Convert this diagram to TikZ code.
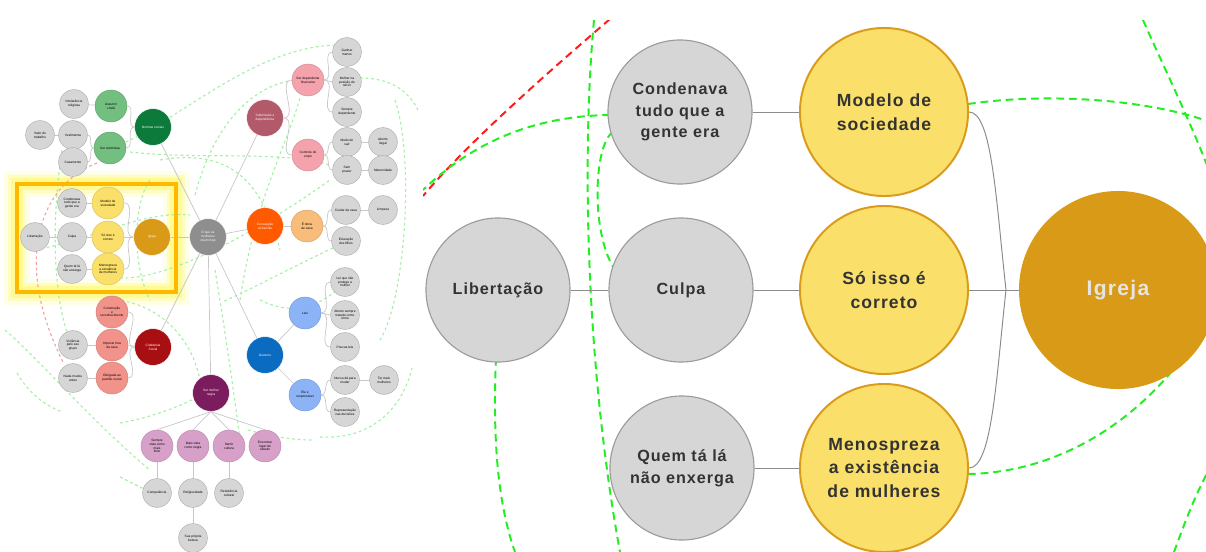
\documentclass[tikz,border=0pt]{standalone}
\usepackage{fontspec}
\setmainfont{Liberation Sans}
\newfontfamily\wide[LetterSpace=6]{Liberation Sans}

\definecolor{nodegray}{HTML}{D6D6D6}
\definecolor{rimgray}{HTML}{9C9C9C}
\definecolor{textdark}{HTML}{333333}
\definecolor{softyellow}{HTML}{FAE06A}
\definecolor{goldrim}{HTML}{D99B1C}
\definecolor{gold}{HTML}{D89A17}
\definecolor{brightgreen}{HTML}{22EE22}
\definecolor{brightred}{HTML}{FF1A1A}
\definecolor{palegreen}{HTML}{A6F0A6}
\definecolor{palered}{HTML}{F5A0A0}
\definecolor{darkgreen}{HTML}{0B7A3B}
\definecolor{lightgreen}{HTML}{72BF7F}
\definecolor{rosewood}{HTML}{B2596A}
\definecolor{rosepink}{HTML}{F4A3AC}
\definecolor{flame}{HTML}{FF5A00}
\definecolor{peach}{HTML}{F8BD7A}
\definecolor{royal}{HTML}{0A6BC1}
\definecolor{skyblue}{HTML}{8DB3F7}
\definecolor{crimson}{HTML}{A80F12}
\definecolor{salmon}{HTML}{F1938A}
\definecolor{plum}{HTML}{7B1C5E}
\definecolor{orchid}{HTML}{D6A0C9}
\definecolor{rootgray}{HTML}{8E8E8E}
\definecolor{boxorange}{HTML}{FFB800}

\tikzset{
  tnode/.style={circle, inner sep=0pt, align=center, line width=0.3pt,
    font=\fontsize{2.3}{2.7}\selectfont},
  tgray/.style={tnode, fill=nodegray, draw=nodegray!80!black, minimum size=0.72cm, text=black},
  tmain/.style={tnode, fill=#1, draw=white, minimum size=0.92cm, text=white},
  tsub/.style={tnode, fill=#1, draw=#1!85!black, minimum size=0.8cm, text=black},
  tlink/.style={draw=black!22, line width=0.5pt},
  tdash/.style={draw=palegreen, line width=0.8pt, dash pattern=on 2pt off 2pt},
  rgray/.style={circle, fill=nodegray, draw=rimgray, line width=0.8pt, minimum size=3.6cm,
    inner sep=0pt, align=center, text=textdark, font=\wide\bfseries\fontsize{11.5}{15.5}\selectfont},
  ryellow/.style={circle, fill=softyellow, draw=goldrim, line width=1.4pt, minimum size=4.2cm,
    inner sep=0pt, align=center, text=textdark, font=\wide\bfseries\fontsize{12.5}{17}\selectfont},
  rgold/.style={circle, fill=gold, minimum size=4.95cm, inner sep=0pt,
    text=white!90!black, font=\wide\bfseries\fontsize{15}{18}\selectfont},
  rlink/.style={draw=black!45, line width=0.7pt},
  rgreen/.style={draw=brightgreen, line width=1.4pt, dash pattern=on 5.5pt off 3.5pt},
  rred/.style={draw=brightred, line width=1.4pt, dash pattern=on 5.5pt off 3.5pt}
}

\begin{document}
\begin{tikzpicture}[x=0.025cm, y=-0.025cm]
    \useasboundingbox (0,0) rectangle (1206,552);

    % Glow round the highlighted branch
    \foreach \w/\o in {18/0.12, 13/0.2, 8/0.35} {
        \draw[yellow!80, line width=\w pt, opacity=\o] (17,184) rectangle (176,292);
    }

    % Cross links of the overview (pale green)
    \draw[tdash] (110,148) .. controls (170,130) and (250,45) .. (340,45);
    \draw[tdash] (130,152) .. controls (200,160) and (280,150) .. (330,165);
    \draw[tdash] (195,195) .. controls (215,120) and (255,85) .. (295,80);
    \draw[tdash] (240,300) .. controls (255,200) and (285,150) .. (300,98);
    \draw[tdash] (360,78) .. controls (390,78) and (408,90) .. (418,110);
    \draw[tdash] (333,248) .. controls (290,268) and (250,290) .. (222,302);
    \draw[tdash] (62,150) .. controls (50,230) and (55,300) .. (68,335);
    \draw[tdash] (17,373) .. controls (30,395) and (45,405) .. (62,412);
    \draw[tdash] (320,437) .. controls (370,440) and (402,410) .. (412,368);
    \draw[tdash] (120,423) .. controls (150,418) and (185,405) .. (205,393);
    \draw[tdash] (248,430) .. controls (270,436) and (292,440) .. (312,440);
    \draw[tdash] (120,477) .. controls (130,482) and (138,486) .. (146,490);
    \draw[tdash] (120,278) .. controls (170,280) and (260,230) .. (330,180);
    \draw[tdash] (30,250) .. controls (80,245) and (140,210) .. (190,215);
    \draw[tdash] (110,300) .. controls (150,300) and (190,330) .. (200,380);
    \draw[tdash] (260,300) .. controls (300,320) and (330,300) .. (346,280);
    \draw[tdash] (215,270) .. controls (225,330) and (235,400) .. (240,440);
    \draw[tdash] (150,180) .. controls (135,200) and (130,260) .. (150,300);
    \draw[tdash] (5,330) .. controls (40,360) and (90,420) .. (150,470);
    \draw[tdash] (395,100) .. controls (415,160) and (405,300) .. (380,340);
    \draw[tdash] (160,160) .. controls (220,150) and (260,170) .. (280,250);
    \draw[palered, line width=0.8pt, dash pattern=on 2pt off 2pt]
        (97,163) .. controls (40,185) and (12,260) .. (63,362);

    % Root of the overview
    \node[tmain=rootgray] (root) at (208,237) {O que as\\mulheres\\vivem hoje};

    % Normas sociais branch
    \node[tmain=darkgreen] (tnorm) at (153,127) {Normas sociais};
    \node[tsub=lightgreen] (tass) at (111,106) {Assumir\\cristã};
    \node[tsub=lightgreen] (tsubm) at (110,148) {Ser submissa};
    \node[tgray] (tint) at (74,104) {Intolerância\\religiosa};
    \node[tgray] (tvest) at (73,135) {Vestimenta};
    \node[tgray] (tval) at (40,135) {Valor do\\trabalho};
    \node[tgray] (tcas) at (73,162) {Casamento};
    \draw[tlink] (tval) -- (tvest);
    \draw[tlink] (tint) -- (tass);
    \draw[tlink] (tvest.east) to[out=0, in=180] (tsubm.west);
    \draw[tlink] (tcas.east) to[out=0, in=180] (tsubm.west);
    \draw[tlink] (tass.east) to[out=0, in=180] (tnorm.west);
    \draw[tlink] (tsubm.east) to[out=0, in=180] (tnorm.west);

    % Igreja branch
    \node[tmain=gold] (tigr) at (152,237) {Igreja};
    \node[tsub=softyellow] (tmod) at (108,203) {Modelo de\\sociedade};
    \node[tsub=softyellow] (tsoi) at (108,237) {Só isso é\\correto};
    \node[tsub=softyellow] (tmen) at (108,269) {Menospreza\\a existência\\de mulheres};
    \node[tgray] (tcond) at (72,203) {Condenava\\tudo que a\\gente era};
    \node[tgray] (tcul) at (72,237) {Culpa};
    \node[tgray] (tquem) at (72,269) {Quem tá lá\\não enxerga};
    \node[tgray] (tlib) at (35,237) {Libertação};
    \draw[tlink] (tlib) -- (tcul);
    \draw[tlink] (tcond) -- (tmod);
    \draw[tlink] (tcul) -- (tsoi);
    \draw[tlink] (tquem) -- (tmen);
    \draw[tlink] (tmod.east) to[out=0, in=180] (tigr.west);
    \draw[tlink] (tsoi) -- (tigr);
    \draw[tlink] (tmen.east) to[out=0, in=180] (tigr.west);

    % Cidadania branch
    \node[tmain=crimson] (tcid) at (153,347) {Cidadania\\Social};
    \node[tsub=salmon] (tcon) at (112,312) {Construção\\e\\reconhecimento};
    \node[tsub=salmon] (timp) at (112,345) {Imposto fora\\da casa};
    \node[tsub=salmon] (tobr) at (112,378) {Obrigada ao\\padrão social};
    \node[tgray] (tvio) at (73,345) {Violência\\pelo seu\\grupo};
    \node[tgray] (tnada) at (73,378) {Nada mudou\\antes};
    \draw[tlink] (tvio) -- (timp);
    \draw[tlink] (tnada) -- (tobr);
    \draw[tlink] (tcon.east) to[out=0, in=180] (tcid.west);
    \draw[tlink] (timp) -- (tcid);
    \draw[tlink] (tobr.east) to[out=0, in=180] (tcid.west);

    % Ser mulher negra branch
    \node[tmain=plum] (tneg) at (211,393) {Ser mulher\\negra};
    \node[tsub=orchid] (tp1) at (157,446) {Sempre\\vista como\\mais\\forte};
    \node[tsub=orchid] (tp2) at (193,446) {Mais vista\\como negra};
    \node[tsub=orchid] (tp3) at (229,446) {Sentir\\cultura};
    \node[tsub=orchid] (tp4) at (265,446) {Encontrar\\lugar de\\estudo};
    \node[tgray] (tq1) at (157,493) {Competência};
    \node[tgray] (tq2) at (193,493) {Religiosidade};
    \node[tgray] (tq3) at (229,493) {Resistência\\cultural};
    \node[tgray] (tq4) at (193,538) {Sua própria\\beleza};
    \foreach \p in {tp1, tp2, tp3, tp4} {
        \draw[tlink] (tneg.south) -- (\p.north);
    }
    \draw[tlink] (tp1) -- (tq1);
    \draw[tlink] (tp2) -- (tq2);
    \draw[tlink] (tp3) -- (tq3);
    \draw[tlink] (tq2) -- (tq4);

    % Submissão branch
    \node[tmain=rosewood] (tsbm) at (265,118) {Submissão e\\dependência};
    \node[tsub=rosepink] (tdep) at (308,80) {Ser dependente\\financeira};
    \node[tsub=rosepink] (tcor) at (308,155) {Controle do\\corpo};
    \node[tgray] (ta1) at (347,52) {Ganhar\\menos};
    \node[tgray] (ta2) at (347,82) {Mulher na\\posição de\\servir};
    \node[tgray] (ta3) at (347,112) {Sempre\\dependente};
    \node[tgray] (ta4) at (347,142) {Medo de\\sair};
    \node[tgray] (ta5) at (347,170) {Sem\\prazer};
    \node[tgray] (ta6) at (383,142) {Aborto\\ilegal};
    \node[tgray] (ta7) at (383,170) {Maternidade};
    \draw[tlink] (tsbm.east) to[out=0, in=180] (tdep.west);
    \draw[tlink] (tsbm.east) to[out=0, in=180] (tcor.west);
    \foreach \a in {ta1, ta2, ta3} {
        \draw[tlink] (tdep.east) to[out=0, in=180] (\a.west);
    }
    \draw[tlink] (tcor.east) to[out=0, in=180] (ta4.west);
    \draw[tlink] (tcor.east) to[out=0, in=180] (ta5.west);
    \draw[tlink] (ta4) -- (ta6);
    \draw[tlink] (ta5) -- (ta7);

    % Concepção de família branch
    \node[tmain=flame] (tfam) at (265,226) {Concepção\\de família};
    \node[tsub=peach] (tdona) at (307,226) {É dona\\de casa};
    \node[tgray] (tf1) at (346,210) {Cuidar da casa};
    \node[tgray] (tf2) at (346,241) {Educação\\dos filhos};
    \node[tgray] (tf3) at (383,210) {Limpeza};
    \draw[tlink] (tfam) -- (tdona);
    \draw[tlink] (tdona.east) to[out=0, in=180] (tf1.west);
    \draw[tlink] (tdona.east) to[out=0, in=180] (tf2.west);
    \draw[tlink] (tf1) -- (tf3);

    % Governo branch
    \node[tmain=royal] (tgov) at (265,355) {Governo};
    \node[tsub=skyblue] (tb1) at (305,313) {Leis};
    \node[tsub=skyblue] (tb2) at (305,395) {Ele é\\responsável};
    \node[tgray] (tc1) at (345,282) {Lei que não\\protege a\\mulher};
    \node[tgray] (tc2) at (345,315) {Aborto sempre\\tratado como\\crime};
    \node[tgray] (tc3) at (345,347) {Poucas leis};
    \node[tgray] (tc4) at (345,380) {Nunca dá para\\mudar};
    \node[tgray] (tc5) at (345,412) {Representação\\nas decisões};
    \node[tgray] (tc6) at (384,380) {Ter mais\\mulheres};
    \draw[tlink] (tgov) -- (tb1);
    \draw[tlink] (tgov) -- (tb2);
    \foreach \c in {tc1, tc2, tc3} {
        \draw[tlink] (tb1.east) to[out=0, in=180] (\c.west);
    }
    \draw[tlink] (tb2.east) to[out=0, in=180] (tc4.west);
    \draw[tlink] (tb2.east) to[out=0, in=180] (tc5.west);
    \draw[tlink] (tc4) -- (tc6);

    % Root to the main topics
    \foreach \m in {tnorm, tsbm, tfam, tigr, tcid, tgov, tneg} {
        \draw[tlink] (root) -- (\m);
    }

    % Frame round the Igreja branch
    \draw[boxorange, line width=2.2pt] (17,184) rectangle (176,292);

    % Zoom on the Igreja branch
    \begin{scope}
        \clip (423,20) rectangle (1206,552);

        % Cross links (green and red)
        \draw[rred] (610,19) .. controls (560,62) and (470,140) .. (423,196);
        \draw[rgreen] (594,20) .. controls (582,150) and (585,360) .. (620,552);
        \draw[rgreen] (610,115) .. controls (530,116) and (470,145) .. (423,190);
        \draw[rgreen] (613,132) .. controls (592,145) and (590,250) .. (622,278);
        \draw[rgreen] (496,358) .. controls (492,450) and (500,510) .. (515,552);
        \draw[rgreen] (968,104) .. controls (1050,92) and (1150,100) .. (1210,122);
        \draw[rgreen] (1143,20) .. controls (1165,70) and (1190,120) .. (1212,178);
        \draw[rgreen] (968,474) .. controls (1080,472) and (1170,395) .. (1212,310);
        \draw[rgreen] (1174,552) .. controls (1185,522) and (1195,495) .. (1210,468);

        % Bubbles
        \node[rgray] (lib) at (498,290) {Libertação};
        \node[rgray] (cond) at (680,112) {Condenava\\tudo que a\\gente era};
        \node[rgray] (culpa) at (681,290) {Culpa};
        \node[rgray] (quem) at (682,468) {Quem tá lá\\não enxerga};
        \node[ryellow] (modelo) at (884,112) {Modelo de\\sociedade};
        \node[ryellow] (soisso) at (884,290) {Só isso é\\correto};
        \node[ryellow] (menos) at (884,468) {Menospreza\\a existência\\de mulheres};
        \node[rgold] (igreja) at (1118,290) {Igreja};
        \coordinate (jn) at (1006,290);

        % Connectors
        \draw[rlink] (lib) -- (culpa);
        \draw[rlink] (cond) -- (modelo);
        \draw[rlink] (culpa) -- (soisso);
        \draw[rlink] (quem) -- (menos);
        \draw[rlink] (soisso.east) -- (igreja.west);
        \draw[rlink] (modelo.east) .. controls (992,112) and (996,200) .. (jn);
        \draw[rlink] (menos.east) .. controls (992,468) and (996,380) .. (jn);
    \end{scope}
\end{tikzpicture}
\end{document}
